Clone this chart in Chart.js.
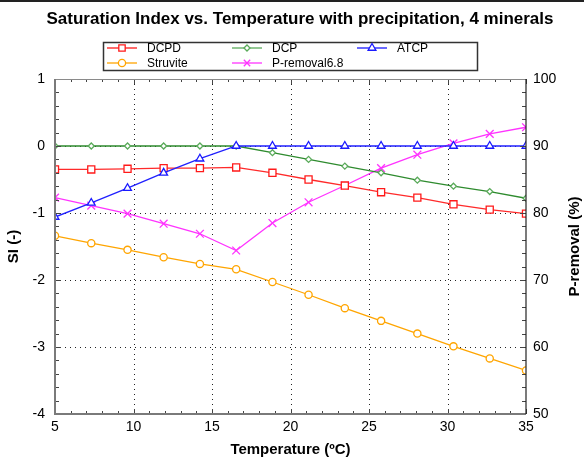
<!DOCTYPE html>
<html>
<head>
<meta charset="utf-8">
<script src="https://cdn.jsdelivr.net/npm/chart.js@4.4.0/dist/chart.umd.min.js"></script>
<style>
  html, body { margin: 0; padding: 0; background: #fff; }
  canvas { display: block; }
</style>
</head>
<body>
<canvas id="c" width="584" height="463"></canvas>
<script>
// Temperature grid (°C)
const temperature = [5, 7.31, 9.62, 11.92, 14.23, 16.54, 18.85, 21.15, 23.46, 25.77, 28.08, 30.38, 32.69, 35];

// Saturation indices (left axis)
const dcpd     = [-0.35, -0.35, -0.34, -0.33, -0.33, -0.32, -0.40, -0.50, -0.59, -0.69, -0.77, -0.87, -0.95, -1.01];
const dcp      = [0, 0, 0, 0, 0, 0, -0.10, -0.20, -0.30, -0.40, -0.51, -0.60, -0.68, -0.78];
const atcp     = [-1.06, -0.85, -0.63, -0.40, -0.19, 0, 0, 0, 0, 0, 0, 0, 0, 0];
const struvite = [-1.34, -1.45, -1.55, -1.66, -1.76, -1.84, -2.03, -2.22, -2.42, -2.61, -2.80, -2.99, -3.17, -3.35];

// Phosphorus removal at pH 6.8 (right axis, %)
const pRemoval = [82.3, 81.1, 79.9, 78.4, 76.9, 74.4, 78.5, 81.6, 84.1, 86.7, 88.7, 90.4, 91.8, 92.8];

// Axis tick labels
const xTicks  = [5, 10, 15, 20, 25, 30, 35];
const siTicks = [1, 0, -1, -2, -3, -4];
const prTicks = [100, 90, 80, 70, 60, 50];

const FONT = '"Liberation Sans", Arial, sans-serif';

const pts = ys => temperature.map((t, i) => ({ x: t, y: ys[i] }));

function series(label, ys, line, point, style, radius, axis, order) {
  return {
    label, data: pts(ys), yAxisID: axis || 'y', order: order || 0,
    borderColor: line, borderWidth: 1.3,
    pointStyle: style, pointRadius: radius, pointBorderWidth: 1.3,
    pointBorderColor: point, pointBackgroundColor: '#ffffff',
    showLine: true, tension: 0, fill: false
  };
}

const datasets = [
  series('DCPD', dcpd, '#ff2a2a', '#ff1a1a', 'rect', 5),
  series('DCP', dcp, '#2e8b2e', '#5aaa5a', 'rectRot', 3),
  series('ATCP', atcp, '#2020ff', '#1a1aff', 'triangle', 4.5, 'y', -1),
  series('Struvite', struvite, '#ffa500', '#ffa500', 'circle', 3.6),
  series('P-removal6.8', pRemoval, '#ff33ff', '#ff33ff', 'crossRot', 5.5, 'y2')
];

// Frame, dotted grid, inner minor ticks, titles and boxed legend
const decor = {
  id: 'decor',
  beforeDraw(chart) {
    const ctx = chart.ctx;
    ctx.save();
    ctx.fillStyle = '#fff';
    ctx.fillRect(0, 0, chart.width, chart.height);
    ctx.fillStyle = '#222';
    ctx.fillRect(0, 0, chart.width, 2);
    ctx.restore();
  },
  beforeDatasetsDraw(chart) {
    const { ctx, chartArea: a, scales } = chart;
    const x = scales.x, y = scales.y;
    ctx.save();
    ctx.strokeStyle = '#222';
    ctx.lineWidth = 1;
    ctx.setLineDash([1, 4]);
    xTicks.slice(1, -1).forEach(v => {
      const px = Math.round(x.getPixelForValue(v)) + 0.5;
      ctx.beginPath(); ctx.moveTo(px, a.top); ctx.lineTo(px, a.bottom); ctx.stroke();
    });
    siTicks.slice(1, -1).forEach(v => {
      const py = Math.round(y.getPixelForValue(v)) + 0.5;
      ctx.beginPath(); ctx.moveTo(a.left, py); ctx.lineTo(a.right, py); ctx.stroke();
    });
    ctx.restore();
  },
  afterDraw(chart) {
    const { ctx, chartArea: a, scales } = chart;
    const x = scales.x, y = scales.y, y2 = scales.y2;
    ctx.save();
    // inner minor/major ticks
    ctx.strokeStyle = '#444';
    ctx.lineWidth = 1;
    ctx.beginPath();
    for (let v = 5; v <= 35; v += 1) {
      const px = Math.round(x.getPixelForValue(v)) + 0.5;
      const len = v % 5 === 0 ? 5 : 3;
      ctx.moveTo(px, a.bottom); ctx.lineTo(px, a.bottom - len);
      ctx.moveTo(px, a.top); ctx.lineTo(px, a.top + len);
    }
    for (let k = -20; k <= 5; k++) {
      const py = Math.round(y.getPixelForValue(k / 5)) + 0.5;
      const len = k % 5 === 0 ? 6 : 4;
      ctx.moveTo(a.left, py); ctx.lineTo(a.left + len, py);
    }
    for (let v = 50; v <= 100; v += 2) {
      const py = Math.round(y2.getPixelForValue(v)) + 0.5;
      const len = v % 10 === 0 ? 6 : 4;
      ctx.moveTo(a.right, py); ctx.lineTo(a.right - len, py);
    }
    ctx.stroke();
    // frame
    ctx.strokeStyle = '#8a8a8a';
    ctx.lineWidth = 1;
    ctx.beginPath();
    ctx.moveTo(a.left, a.top + 0.5); ctx.lineTo(a.right, a.top + 0.5);
    ctx.stroke();
    ctx.strokeStyle = '#7a7a7a';
    ctx.lineWidth = 2;
    ctx.beginPath();
    ctx.moveTo(a.left, a.top); ctx.lineTo(a.left, a.bottom); ctx.lineTo(a.right, a.bottom);
    ctx.stroke();
    ctx.strokeStyle = '#222';
    ctx.lineWidth = 1.2;
    ctx.beginPath();
    ctx.moveTo(a.right, a.top); ctx.lineTo(a.right, a.bottom);
    ctx.stroke();

    // titles
    ctx.fillStyle = '#000';
    ctx.textAlign = 'center';
    ctx.textBaseline = 'middle';
    ctx.font = 'bold 17px ' + FONT;
    ctx.fillText('Saturation Index vs. Temperature with precipitation, 4 minerals', 300, 19);
    ctx.font = 'bold 15px ' + FONT;
    ctx.fillText('Temperature (\u00BAC)', (a.left + a.right) / 2, 450);
    const midY = (a.top + a.bottom) / 2;
    ctx.save();
    ctx.translate(14, midY); ctx.rotate(-Math.PI / 2);
    ctx.fillText('SI (-)', 0, 0);
    ctx.restore();
    ctx.save();
    ctx.translate(575, midY); ctx.rotate(-Math.PI / 2);
    ctx.fillText('P-removal (%)', 0, 0);
    ctx.restore();

    // legend
    ctx.fillStyle = '#fff';
    ctx.fillRect(103, 42, 375, 29);
    ctx.strokeStyle = '#333';
    ctx.lineWidth = 1.5;
    ctx.strokeRect(103.5, 42.5, 374, 28);
    const slots = [[107, 48], [232, 48], [357, 48], [107, 63], [232, 63]];
    ctx.font = '12px ' + FONT;
    ctx.textAlign = 'left';
    chart.data.datasets.forEach((ds, i) => {
      const [lx, ly] = slots[i];
      ctx.strokeStyle = ds.pointBorderColor;
      ctx.lineWidth = 1.3;
      ctx.beginPath(); ctx.moveTo(lx, ly); ctx.lineTo(lx + 30, ly); ctx.stroke();
      ctx.fillStyle = '#fff';
      Chart.helpers.drawPoint(ctx, {
        pointStyle: ds.pointStyle, radius: Math.min(ds.pointRadius, 4.5),
        borderWidth: 1.3, rotation: 0
      }, lx + 15, ly);
      ctx.fillStyle = '#000';
      ctx.fillText(ds.label, lx + 40, ly + 1);
    });
    ctx.restore();
  }
};

new Chart(document.getElementById('c'), {
  type: 'scatter',
  data: { datasets },
  options: {
    responsive: false,
    animation: false,
    devicePixelRatio: 1,
    layout: { padding: { top: 79, left: 0, right: 0, bottom: 0 } },
    plugins: { legend: { display: false }, title: { display: false }, tooltip: { enabled: false } },
    scales: {
      x: {
        type: 'linear', min: 5, max: 35,
        afterFit: s => { s.height = 49; },
        afterBuildTicks: s => { s.ticks = xTicks.map(v => ({ value: v })); },
        grid: { display: false, drawTicks: false },
        border: { display: false },
        ticks: { color: '#000', padding: 5, maxRotation: 0, font: { family: FONT, size: 14 } }
      },
      y: {
        type: 'linear', position: 'left', min: -4, max: 1,
        afterFit: s => { s.width = 55; },
        afterBuildTicks: s => { s.ticks = siTicks.map(v => ({ value: v })); },
        grid: { display: false, drawTicks: false },
        border: { display: false },
        ticks: { color: '#000', padding: 10, font: { family: FONT, size: 14 } }
      },
      y2: {
        type: 'linear', position: 'right', min: 50, max: 100,
        afterFit: s => { s.width = 58; },
        afterBuildTicks: s => { s.ticks = prTicks.map(v => ({ value: v })); },
        grid: { display: false, drawTicks: false },
        border: { display: false },
        ticks: { color: '#000', padding: 7, font: { family: FONT, size: 14 } }
      }
    }
  },
  plugins: [decor]
});
</script>
</body>
</html>
